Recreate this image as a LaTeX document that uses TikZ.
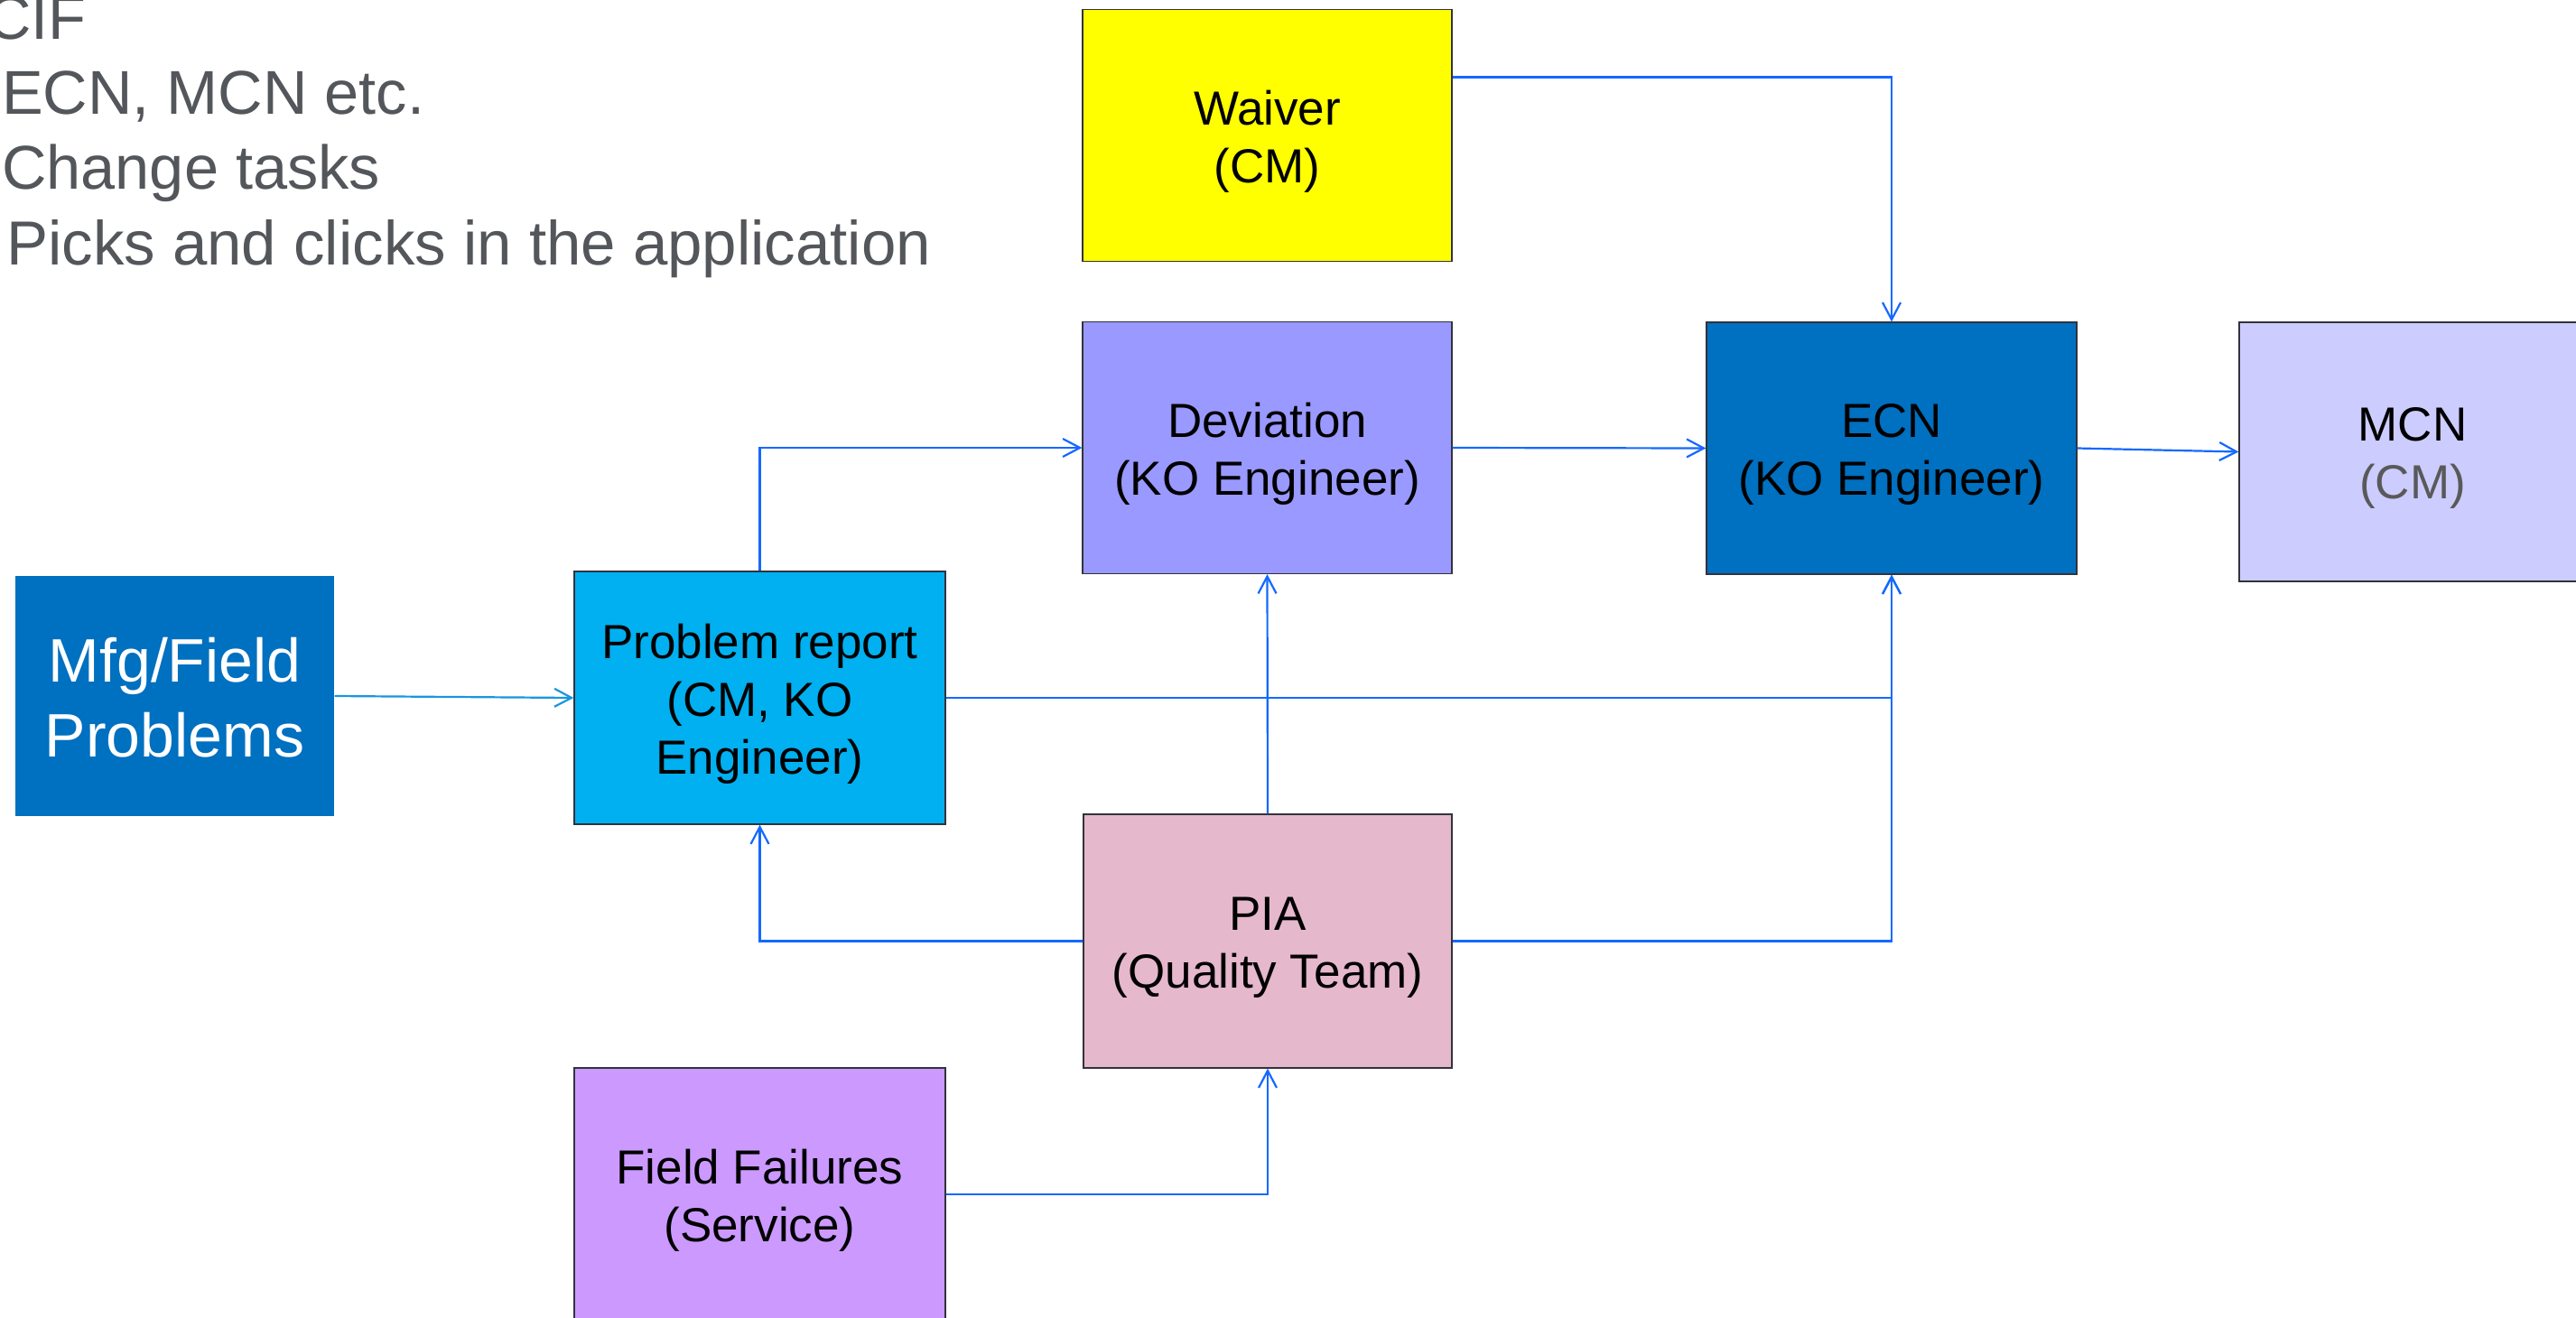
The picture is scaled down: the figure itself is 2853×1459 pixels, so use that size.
\documentclass[tikz,border=0pt]{standalone}
\usepackage{fontspec}
\setmainfont{Liberation Sans}
\usetikzlibrary{arrows.meta,calc}

\definecolor{flow}{RGB}{20,105,255}
\definecolor{feed}{RGB}{25,150,225}
\definecolor{bullettext}{RGB}{83,86,90}
\definecolor{roletext}{RGB}{89,89,89}
\definecolor{waiverfill}{RGB}{255,255,0}
\definecolor{devfill}{RGB}{153,153,255}
\definecolor{ecnfill}{RGB}{0,112,192}
\definecolor{mcnfill}{RGB}{204,204,255}
\definecolor{prfill}{RGB}{0,176,240}
\definecolor{piafill}{RGB}{230,184,204}
\definecolor{fffill}{RGB}{204,153,255}
\definecolor{boxedge}{RGB}{50,50,60}

% invisible struts that fix where the text block sits inside a box
\newcommand{\firststrut}{\rule{0pt}{55pt}}
\newcommand{\bigfirststrut}{\rule{0pt}{66pt}}
\newcommand{\laststrut}{\rule[-15pt]{0pt}{15pt}}

\tikzset{
  procbox/.style={draw=boxedge, line width=1.2pt, rectangle, inner sep=0pt,
    minimum width=409pt, minimum height=279pt, align=center,
    font=\fontsize{53}{64}\selectfont},
  conn/.style={draw=flow, line width=2.2pt,
    -{Straight Barb[length=19pt,width=20pt]}},
  bulletline/.style={anchor=base west, inner sep=0pt, text=bullettext,
    font=\fontsize{68.5}{83}\selectfont}
}

\begin{document}
\begin{tikzpicture}[x=1pt,y=-1pt]
  \clip (0,0) rectangle (2853,1459);
  \fill[white] (0,0) rectangle (2853,1459);

  % outline list at the top left
  \node[bulletline] (l1) at (-15,43)  {CIF};
  \node[bulletline] (l2) at (2,126)   {ECN, MCN etc.};
  \node[bulletline] (l3) at (2,209)   {Change tasks};
  \node[bulletline, font=\fontsize{69}{83}\selectfont] (l4) at (7,293)
    {Picks and clicks in the application};

  % process boxes
  \node[procbox, fill=waiverfill] (W) at (1403.5,150)
    {\firststrut Waiver\\(CM)\laststrut};
  \node[procbox, fill=devfill] (D) at (1403.5,496)
    {\firststrut Deviation\\(KO Engineer)\laststrut};
  \node[procbox, fill=ecnfill, minimum width=410pt] (E) at (2095,496.5)
    {\firststrut ECN\\(KO Engineer)\laststrut};
  \node[procbox, fill=mcnfill, minimum width=384pt, minimum height=287pt] (M) at (2672,500.5)
    {\firststrut MCN\\\textcolor{roletext}{(CM)}\laststrut};
  \node[procbox, draw=none, fill=ecnfill, minimum width=353pt, minimum height=266pt,
        text=white, font=\fontsize{68}{83}\selectfont] (MF) at (193.5,771)
    {\bigfirststrut Mfg/Field\\Problems\laststrut};
  \node[procbox, fill=prfill, minimum width=411pt, minimum height=280pt] (PR) at (841.5,773)
    {\firststrut Problem report\\(CM, KO\\Engineer)\laststrut};
  \node[procbox, fill=piafill, minimum width=408pt, minimum height=281pt] (PIA) at (1404,1042.5)
    {\firststrut PIA\\(Quality Team)\laststrut};
  \node[procbox, fill=fffill, minimum width=411pt, minimum height=280pt] (FF) at (841.5,1323)
    {\firststrut Field Failures\\(Service)\laststrut};

  % connectors
  \draw[conn, draw=feed] (MF.east) -- (PR.west);
  \draw[conn] (PR.north) |- (D.west);
  \draw[conn] (D.east) -- (E.west);
  \draw[conn] ($(W.north east)!0.27!(W.south east)$) -| (E.north);
  \draw[conn] (E.east) -- (M.west);
  \draw[conn] (PR.east) -| (E.south);
  \draw[conn] (PIA.east) -| (E.south);
  \draw[conn] (PIA.north) -- (D.south);
  \draw[conn] (PIA.west) -| (PR.south);
  \draw[conn] (FF.east) -| (PIA.south);
\end{tikzpicture}
\end{document}
